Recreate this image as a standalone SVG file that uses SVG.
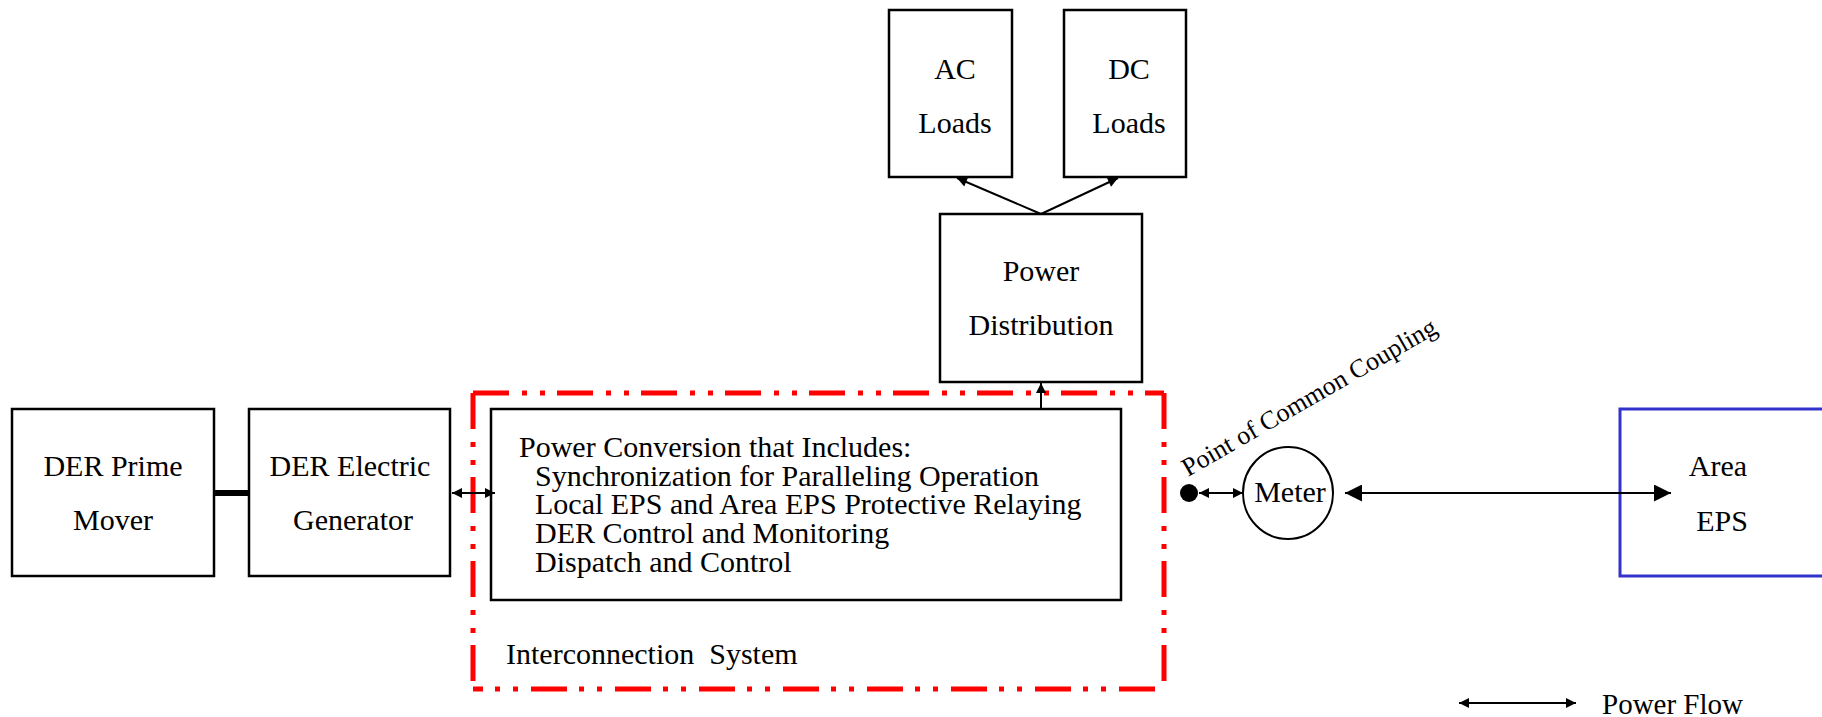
<svg xmlns="http://www.w3.org/2000/svg" width="1822" height="717" viewBox="0 0 1822 717">
<style>
  text { font-family: "Liberation Serif", "Times New Roman", serif; font-size: 30px; fill: #000; }
  .c { text-anchor: middle; }
  .box { fill: #fff; stroke: #000; stroke-width: 2.5; }
  .ln { stroke: #000; stroke-width: 2; fill: none; }
  .red { stroke: #ff0000; stroke-width: 5; fill: none; stroke-dasharray: 36 13 5 13 5 12; }
</style>
<defs>
  <marker id="ah" viewBox="0 0 10 10" refX="10" refY="5" markerUnits="userSpaceOnUse" markerWidth="11" markerHeight="10" orient="auto-start-reverse">
    <path d="M0,0 L10,5 L0,10 z" fill="#000"/>
  </marker>
  <marker id="ahb" viewBox="0 0 10 10" refX="10" refY="5" markerUnits="userSpaceOnUse" markerWidth="19" markerHeight="17" orient="auto-start-reverse">
    <path d="M0,0 L10,5 L0,10 z" fill="#000"/>
  </marker>
</defs>

<g id="interconnection-system">
  <line class="red" x1="473" y1="393" x2="1164" y2="393"/>
  <line class="red" x1="1164" y1="393" x2="1164" y2="689"/>
  <line class="red" x1="473" y1="393" x2="473" y2="689"/>
  <line class="red" x1="1155" y1="689" x2="473" y2="689"/>
  <text x="506" y="664" style="white-space:pre">Interconnection  System</text>
</g>

<g id="prime-mover">
  <rect class="box" x="12" y="409" width="202" height="167"/>
  <text class="c" x="113" y="476">DER Prime</text>
  <text class="c" x="113" y="530">Mover</text>
</g>

<g id="generator">
  <rect class="box" x="249" y="409" width="201" height="167"/>
  <text class="c" x="350" y="476">DER Electric</text>
  <text class="c" x="353" y="530">Generator</text>
</g>

<g id="power-conversion">
  <rect class="box" x="491" y="409" width="630" height="191"/>
  <text x="519" y="457">Power Conversion that Includes:</text>
  <text x="535" y="486">Synchronization for Paralleling Operation</text>
  <text x="535" y="514">Local EPS and Area EPS Protective Relaying</text>
  <text x="535" y="543">DER Control and Monitoring</text>
  <text x="535" y="572">Dispatch and Control</text>
</g>

<g id="power-distribution">
  <rect class="box" x="940" y="214" width="202" height="168"/>
  <text class="c" x="1041" y="281">Power</text>
  <text class="c" x="1041" y="335">Distribution</text>
</g>

<g id="ac-loads">
  <rect class="box" x="889" y="10" width="123" height="167"/>
  <text class="c" x="955" y="79">AC</text>
  <text class="c" x="955" y="133">Loads</text>
</g>

<g id="dc-loads">
  <rect class="box" x="1064" y="10" width="122" height="167"/>
  <text class="c" x="1129" y="79">DC</text>
  <text class="c" x="1129" y="133">Loads</text>
</g>

<g id="pcc">
  <circle cx="1189" cy="493" r="9" fill="#000"/>
  <text x="1188" y="477" style="font-size:26px" transform="rotate(-30 1188 477)">Point of Common Coupling</text>
</g>

<g id="meter">
  <ellipse cx="1288" cy="493" rx="45" ry="46" fill="#fff" stroke="#000" stroke-width="2"/>
  <text class="c" x="1290" y="502">Meter</text>
</g>

<g id="area-eps">
  <path d="M1822,409 H1620 V576 H1822" fill="none" stroke="#3333cc" stroke-width="3"/>
  <text class="c" x="1718" y="476">Area</text>
  <text class="c" x="1722" y="531">EPS</text>
</g>

<g id="connectors">
  <line x1="214" y1="493" x2="249" y2="493" stroke="#000" stroke-width="6"/>
  <line class="ln" x1="452" y1="493" x2="495" y2="493" marker-start="url(#ah)" marker-end="url(#ah)"/>
  <line class="ln" x1="1041" y1="409" x2="1041" y2="383" marker-end="url(#ah)"/>
  <line class="ln" x1="1041" y1="214" x2="957" y2="178" marker-end="url(#ah)"/>
  <line class="ln" x1="1041" y1="214" x2="1118" y2="178" marker-end="url(#ah)"/>
  <line class="ln" x1="1199" y1="493" x2="1243" y2="493" marker-start="url(#ah)" marker-end="url(#ah)"/>
  <line class="ln" x1="1345" y1="493" x2="1671" y2="493" marker-start="url(#ahb)" marker-end="url(#ahb)"/>
</g>

<g id="legend">
  <line class="ln" x1="1459" y1="703" x2="1576" y2="703" marker-start="url(#ah)" marker-end="url(#ah)"/>
  <text x="1602" y="714" style="font-size:29px">Power Flow</text>
</g>
</svg>
